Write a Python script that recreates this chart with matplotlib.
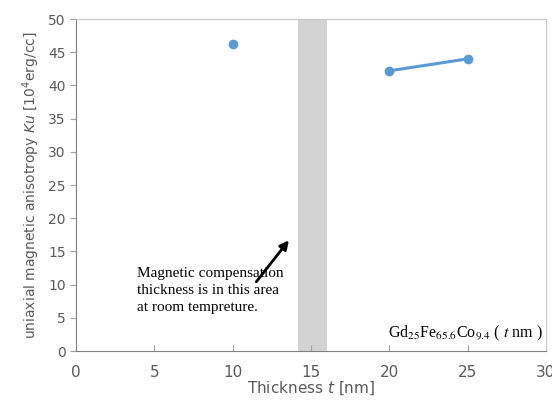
import matplotlib.pyplot as plt

plt.rcParams['mathtext.fontset'] = 'stix'

# Ku vs thickness
thickness = [10, 20, 25]
ku = [46.3, 42.2, 44.0]
band = (14.2, 16.0)

xticks = [0, 5, 10, 15, 20, 25, 30]
yticks = [0, 5, 10, 15, 20, 25, 30, 35, 40, 45, 50]

fig = plt.figure(figsize=(5.52, 4.05), dpi=100)
ax = fig.add_axes([0.1377, 0.1333, 0.8513, 0.8197])

ax.axvspan(band[0], band[1], color='#d3d3d3', lw=0, zorder=1)
ax.plot(thickness[:1], ku[:1], 'o', color='#5b9bd5', ms=6, zorder=3)
ax.plot(thickness[1:], ku[1:], '-o', color='#5b9bd5', ms=6, lw=2.2, zorder=3)

ax.set_xlim(0, 30)
ax.set_ylim(0, 50)
ax.set_xticks(xticks)
ax.set_yticks(yticks)

gray = '#595959'
ax.tick_params(axis='x', direction='in', length=4, color='#a0a0a0', labelsize=11, labelcolor=gray, pad=10)
ax.tick_params(axis='y', direction='out', length=4, color='#a0a0a0', labelsize=10, labelcolor=gray)
for s in ['left', 'bottom']:
    ax.spines[s].set_color('#808080')
for s in ['top', 'right']:
    ax.spines[s].set_color('#c8c8c8')

ax.set_xlabel('Thickness $\\it{t}$ [nm]', fontsize=11, color=gray, labelpad=0,
              math_fontfamily='dejavusans')
ax.set_ylabel('uniaxial magnetic anisotropy $\\it{Ku}$ [10$^4$erg/cc]', fontsize=10, color=gray,
              labelpad=4, math_fontfamily='dejavusans')

ax.annotate('', xy=(13.7, 17.0), xytext=(11.4, 10.1),
            arrowprops=dict(arrowstyle='-|>', color='black', lw=2, mutation_scale=13))
ax.text(3.9, 12.6, 'Magnetic compensation\nthickness is in this area\nat room tempreture.',
        fontsize=11, family='Liberation Serif', va='top', ha='left', linespacing=1.4)
ax.text(29.8, 1.2, 'Gd$_{25}$Fe$_{65.6}$Co$_{9.4}$ ( $\\it{t}$ nm )',
        fontsize=11.5, family='Liberation Serif', va='bottom', ha='right')

fig.savefig('out.png', dpi=100)
